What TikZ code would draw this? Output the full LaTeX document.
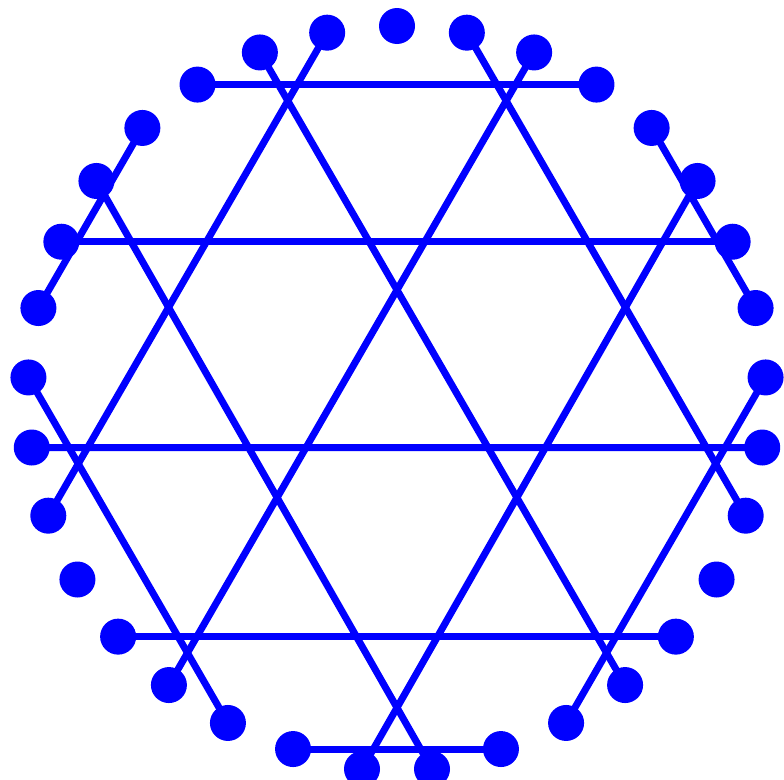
\documentclass[tikz,border=0pt]{standalone}
\begin{document}
\begin{tikzpicture}[x=1pt,y=-1pt,
  dot/.style={circle,fill=blue,draw=none,inner sep=0pt,minimum size=36pt},
  link/.style={draw=blue,line width=7pt}]
\useasboundingbox (0,0) rectangle (784,779);
\clip (0,0) rectangle (784,779);
\foreach \k in {0,...,32}{
  \pgfmathsetmacro\ang{90-\k*360/33}
  \coordinate (p\k) at ({397+369*cos(\ang)}, {395-369*sin(\ang)});
}
\coordinate (p16) at (432,769);
\coordinate (p17) at (362,769);
\foreach \k in {0,...,32}{
  \node[dot] (d\k) at (p\k) {};
}
\foreach \a/\b in {3/30,6/27,9/24,12/21,15/18,
                   14/8,17/5,20/2,23/32,26/29,
                   25/19,28/16,31/13,1/10,4/7}{
  \draw[link] (d\a.center) -- (d\b.center);
}
\end{tikzpicture}
\end{document}
